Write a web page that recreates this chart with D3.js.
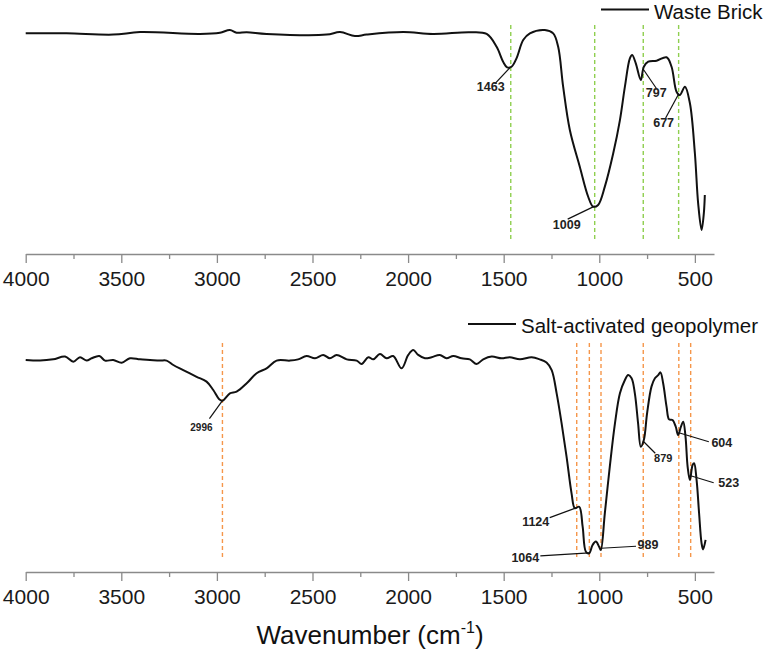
<!DOCTYPE html>
<html>
<head>
<meta charset="utf-8">
<script src="https://cdn.jsdelivr.net/npm/d3@7"></script>
<style>
  body { margin: 0; background: #fff; }
  text { font-family: "Liberation Sans", Arial, sans-serif; }
</style>
</head>
<body>
<div id="chart"></div>
<script>
// Spectrum data (wavenumber, transmittance in arbitrary %)
var brickWave = [4000, 3786, 3542, 3402, 3089, 2984, 2932, 2897, 2844, 2740, 2426, 2356, 2278, 2217, 2025, 1869, 1677, 1589,
  1537, 1503, 1482, 1459, 1433, 1398, 1363, 1285, 1241, 1215, 1189, 1154, 1102, 1058, 1032, 1006, 971, 927, 892, 866,
  840, 828, 809, 783, 767, 744, 700, 648, 622, 596, 579, 552, 526, 500, 483, 465, 453, 448];
var brickT = [98.4, 98.4, 97.8, 99.0, 98.1, 98.7, 100, 98.7, 98.9, 98.1, 97.8, 99.0, 97.1, 97.8, 99.0, 98.1, 98.9, 98.1,
  92.0, 84.9, 82.2, 82.5, 86.5, 95.2, 98.4, 100, 98.4, 92.0, 73.0, 52.4, 34.9, 20.6, 15.9, 16.7, 25.4, 41.3, 57.1, 73.0,
  86.5, 88.1, 84.1, 76.2, 82.5, 84.9, 85.4, 87.0, 82.5, 70.6, 69.0, 73.0, 65.1, 41.3, 17.6, 4.8, 12.9, 21.4];

var geoWave = [4000, 3925, 3856, 3794, 3751, 3716, 3681, 3655, 3615, 3585, 3542, 3498, 3455, 3402, 3350, 3298, 3263,
  3228, 3176, 3106, 3054, 3019, 2988, 2970, 2932, 2897, 2844, 2792, 2740, 2688, 2618, 2575, 2531, 2487, 2444, 2409,
  2374, 2321, 2269, 2243, 2208, 2182, 2147, 2112, 2078, 2034, 1999, 1973, 1947, 1912, 1877, 1834, 1799, 1764, 1720,
  1677, 1642, 1607, 1563, 1511, 1468, 1415, 1354, 1311, 1276, 1249, 1223, 1197, 1171, 1145, 1128, 1105, 1087, 1070,
  1053, 1035, 1018, 1001, 992, 971, 945, 918, 892, 866, 849, 831, 814, 797, 783, 767, 750, 727, 709, 692, 680, 666,
  648, 635, 617, 600, 588, 573, 561, 549, 538, 526, 512, 504, 491, 478, 465, 457, 444];
var geoT = [94.3, 94.0, 94.6, 95.9, 93.5, 95.6, 94.0, 95.1, 96.2, 94.0, 94.3, 93.0, 95.1, 94.6, 94.3, 94.0, 94.0,
  91.9, 89.5, 86.3, 84.0, 80.0, 75.6, 74.9, 78.4, 79.2, 83.2, 88.0, 90.3, 94.0, 94.0, 94.6, 96.2, 95.1, 96.7, 95.1,
  96.7, 94.6, 94.0, 92.4, 95.6, 94.6, 97.1, 95.1, 96.2, 90.3, 96.7, 99.0, 96.7, 95.1, 95.6, 96.7, 95.1, 96.2, 95.1,
  94.6, 92.4, 94.6, 95.9, 95.1, 95.6, 94.6, 95.6, 94.6, 93.1, 89.5, 78.4, 64.1, 48.2, 30.8, 23.7, 24.4, 14.9, 3.0,
  2.2, 6.2, 7.8, 5.4, 3.8, 21.3, 43.5, 64.1, 78.4, 84.8, 87.1, 85.6, 78.4, 64.1, 53.0, 56.2, 68.9, 81.6, 85.6, 87.1, 88.4, 83.2,
  72.0, 66.0, 65.7, 62.5, 58.6, 62.5, 64.9, 57.8, 43.5, 37.1, 44.3, 45.1, 37.1, 21.3, 7.0, 4.1, 8.6];

// Marked bands
var brickPeaks = [1463, 1024, 770, 585];
var brickPeakLabels = ["1463", "1009", "797", "677"];
var geoPeaks = [2971, 1118, 1052, 991, 770, 584, 522];
var geoPeakLabels = ["2996", "1124", "1064", "989", "879", "604", "523"];

var majorTicks = [4000, 3500, 3000, 2500, 2000, 1500, 1000, 500];
var minorTicks = [3750, 3250, 2750, 2250, 1750, 1250, 750];
var seriesNames = ["Waste Brick", "Salt-activated geopolymer"];
var xTitle = "Wavenumber (cm";

// label placement: [leader dx, leader dy, text dx, text dy] from the band point
var brickLabelPos = [[-16, 17, -20, 24], [-27, 13, -28, 23], [13, 19, 13, 28], [-13, 24, -15, 33]];
var geoLabelPos = [[-13, 18, -21, 30], [-27, 10, -41, 18], [-49, 3, -64, 9], [35, -2, 47, 1],
  [12, 12, 20, 21], [30, 9, 43, 14], [23, 7, 38, 11]];

var fullWidth = 779;
var fullHeight = 655;

var svg = d3.select("#chart").append("svg")
  .attr("width", fullWidth)
  .attr("height", fullHeight);

var x = d3.scaleLinear().domain([4000, 400]).range([25.7, 714]);

function valueAt(waves, vals, w) {
  for (var i = 0; i < waves.length - 1; i++) {
    if (waves[i] >= w && waves[i + 1] <= w) {
      var t = (waves[i] - w) / (waves[i] - waves[i + 1]);
      return vals[i] + t * (vals[i + 1] - vals[i]);
    }
  }
  return vals[vals.length - 1];
}

function drawPanel(cfg) {
  var y = d3.scaleLinear().domain([0, 100]).range([cfg.bottom, cfg.top]);
  var g = svg.append("g");

  // dashed band markers
  g.selectAll(".band")
    .data(cfg.peaks)
    .enter()
    .append("line")
      .attr("x1", function(d) { return x(d); })
      .attr("x2", function(d) { return x(d); })
      .attr("y1", y(102.4))
      .attr("y2", y(-1))
      .attr("stroke", cfg.dashColor)
      .attr("stroke-width", 1.4)
      .attr("stroke-dasharray", "4,3");

  // spectrum
  var pts = cfg.waves.map(function(w, i) { return [w, cfg.vals[i]]; });
  var line = d3.line()
    .x(function(d) { return x(d[0]); })
    .y(function(d) { return y(d[1]); })
    .curve(d3.curveCatmullRom.alpha(0.5));
  g.append("path")
    .datum(pts)
    .attr("d", line)
    .attr("fill", "none")
    .attr("stroke", "#111")
    .attr("stroke-width", 2)
    .attr("stroke-linejoin", "round");

  // leaders and labels
  cfg.peaks.forEach(function(p, i) {
    var px = x(p);
    var py = y(valueAt(cfg.waves, cfg.vals, p));
    var o = cfg.labelPos[i];
    g.append("line")
      .attr("x1", px).attr("y1", py)
      .attr("x2", px + o[0]).attr("y2", py + o[1])
      .attr("stroke", "#111")
      .attr("stroke-width", 1.2);
    g.append("text")
      .attr("x", px + o[2])
      .attr("y", py + o[3])
      .attr("text-anchor", "middle")
      .attr("font-size", cfg.labels[i] === "2996" ? 10 : (cfg.labels[i] === "879" ? 11 : 12.5))
      .attr("font-weight", "bold")
      .attr("fill", "#222")
      .text(cfg.labels[i]);
  });

  // axis
  var axis = d3.axisBottom(x)
    .tickValues(majorTicks)
    .tickSize(9)
    .tickSizeOuter(0)
    .tickPadding(8)
    .tickFormat(d3.format("d"));
  var ax = g.append("g")
    .attr("transform", "translate(0," + cfg.axisY + ")")
    .call(axis);
  ax.select(".domain").attr("stroke", "#8a8a8a").attr("stroke-width", 1.3);
  ax.selectAll(".tick line").attr("stroke", "#8a8a8a").attr("stroke-width", 1.3);
  ax.selectAll(".tick text")
    .attr("fill", "#1a1a1a")
    .style("font-size", "21px")
    .style("font-family", "'Liberation Sans', Arial, sans-serif");

  var minor = d3.axisBottom(x).tickValues(minorTicks).tickSize(5).tickSizeOuter(0).tickFormat("");
  var mx = g.append("g")
    .attr("transform", "translate(0," + cfg.axisY + ")")
    .call(minor);
  mx.select(".domain").remove();
  mx.selectAll(".tick line").attr("stroke", "#8a8a8a").attr("stroke-width", 1.3);

  // legend
  g.append("line")
    .attr("x1", cfg.legendX).attr("x2", cfg.legendX + 48)
    .attr("y1", cfg.legendY).attr("y2", cfg.legendY)
    .attr("stroke", "#111").attr("stroke-width", 2);
  g.append("text")
    .attr("x", cfg.legendX + 53)
    .attr("y", cfg.legendY + 9)
    .attr("font-size", 20.5)
    .attr("fill", "#111")
    .text(cfg.name);
}

drawPanel({
  waves: brickWave, vals: brickT, peaks: brickPeaks, labels: brickPeakLabels,
  labelPos: brickLabelPos, name: seriesNames[0], dashColor: "#8fcf4f",
  top: 30, bottom: 240, axisY: 254, legendX: 601, legendY: 9.5
});

drawPanel({
  waves: geoWave, vals: geoT, peaks: geoPeaks, labels: geoPeakLabels,
  labelPos: geoLabelPos, name: seriesNames[1], dashColor: "#f5964a",
  top: 348, bottom: 558, axisY: 572, legendX: 468, legendY: 324
});

// x title
var title = svg.append("text")
  .attr("x", 370)
  .attr("y", 644)
  .attr("text-anchor", "middle")
  .attr("font-size", 26)
  .attr("fill", "#111");
title.append("tspan").text(xTitle);
title.append("tspan").attr("font-size", 16).attr("dy", -11).text("-1");
title.append("tspan").attr("dy", 11).text(")");
</script>
</body>
</html>
